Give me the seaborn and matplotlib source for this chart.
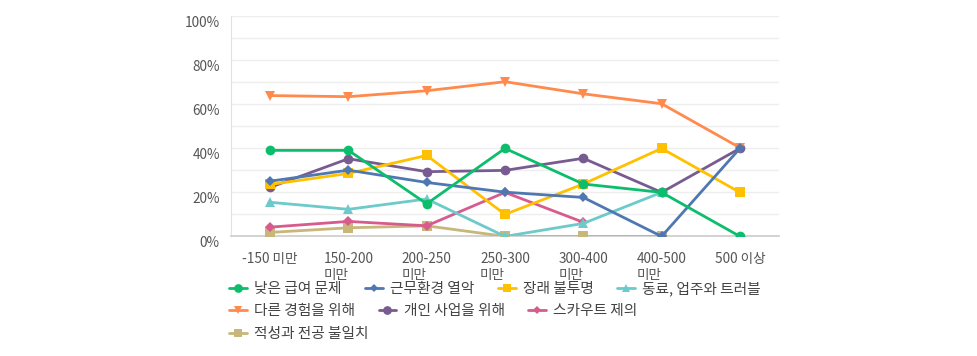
import numpy as np
import pandas as pd
import matplotlib
matplotlib.use('Agg')
import matplotlib.pyplot as plt
import matplotlib.transforms as mtrans
from matplotlib.lines import Line2D
from matplotlib.ticker import FuncFormatter, MultipleLocator
import seaborn as sns

## ===================================================================== ##

categories = ['-150 미만', '150-200\n미만', '200-250\n미만', '250-300\n미만',
              '300-400\n미만', '400-500\n미만', '500 이상']

series_names = ['낮은 급여 문제', '근무환경 열악', '장래 불투명', '동료, 업주와 트러블',
                '다른 경험을 위해', '개인 사업을 위해', '스카우트 제의', '적성과 전공 불일치']

low_pay = [39.1, 39.1, 14.8, 40.0, 23.8, 20.0, 0.0]
bad_env = [25.1, 30.1, 24.5, 20.1, 17.7, 0.0, 40.0]
uncertain = [23.6, 28.6, 36.8, 10.0, 23.8, 40.0, 20.0]
trouble = [15.5, 12.3, 17.0, 0.0, 5.9, 20.0, np.nan]
other_exp = [64.0, 63.5, 66.2, 70.3, 64.8, 60.3, 40.3]
own_biz = [22.3, 35.3, 29.4, 30.0, 35.5, 20.0, 40.0]
scout = [4.2, 6.8, 4.8, 20.0, 6.4, np.nan, np.nan]
mismatch = [1.8, 3.9, 4.8, 0.0, 0.0, 0.0, np.nan]

colors = ['#0cbd6c', '#4f78b3', '#ffc000', '#6ccaca',
          '#ff8a4c', '#785b90', '#d75b8c', '#c8b67a']
markers = ['o', 'D', 's', '^', 'v', 'o', 'D', 's']
msizes = [7, 5, 7, 7, 7, 7, 5, 7]

## ===================================================================== ##

values = [low_pay, bad_env, uncertain, trouble, other_exp, own_biz, scout, mismatch]
df = pd.DataFrame({
    'category': categories * len(series_names),
    'name': np.repeat(series_names, len(categories)),
    'value': np.concatenate(values),
})
df = df.loc[df['value'].notnull(), :]

sns.set_style('white')
plt.rcParams['font.family'] = ['Noto Sans CJK KR', 'DejaVu Sans']

fig = plt.figure(figsize=(9.77, 3.56), dpi=100)
ax = fig.add_axes([0.2364, 0.336, 0.561, 0.618])

sns.lineplot(data=df, x='category', y='value', hue='name', hue_order=series_names,
             style='name', style_order=series_names, markers=dict(zip(series_names, markers)),
             dashes=False, palette=dict(zip(series_names, colors)), sort=False,
             lw=2, legend=False, ax=ax)

# first series on top, like the original
for i, line in enumerate(ax.lines):
    line.set_zorder(20 - i)
    line.set_markeredgecolor(colors[i])
    line.set_markeredgewidth(0)
    line.set_markersize(msizes[i])

ax.set_xlim(-0.5, len(categories) - 0.5)
ax.set_ylim(0, 100)
ax.yaxis.set_major_locator(MultipleLocator(20))
ax.yaxis.set_minor_locator(MultipleLocator(10))
ax.yaxis.set_major_formatter(FuncFormatter(lambda v, p: '{0:d}%'.format(int(v))))
ax.grid(axis='y', which='both', color='#eeeeee', lw=1)
ax.set_axisbelow(True)
ax.set_xlabel('')
ax.set_ylabel('')
ax.tick_params(axis='both', length=0, labelsize=9.8, colors='#555555')
ax.tick_params(axis='x', pad=11)
ax.tick_params(axis='y', pad=8)
for lab in ax.get_xticklabels():
    lab.set_multialignment('left')

# y labels sit a little below their gridline
offset = mtrans.ScaledTranslation(0, -5. / 100, fig.dpi_scale_trans)
for tick in ax.yaxis.get_major_ticks():
    tick.label1.set_transform(tick.label1.get_transform() + offset)

sns.despine(ax=ax, top=True, right=True)
ax.spines['left'].set_color('#e2e2e2')
ax.spines['bottom'].set_color('#cccccc')
ax.spines['bottom'].set_linewidth(1.2)

handles = [Line2D([], [], color=c, marker=m, lw=2, ms=s * 0.9, mew=0)
           for c, m, s in zip(colors, markers, msizes)]

rows = [(0, 4, 0.188), (4, 7, 0.126), (7, 8, 0.061)]
for a, b, y in rows:
    fig.legend(handles[a:b], series_names[a:b], loc='center left', bbox_to_anchor=(0.2344, y),
               ncol=b - a, frameon=False, fontsize=10.6, handlelength=1.2, handletextpad=0.5,
               columnspacing=1.6, borderpad=0, borderaxespad=0, labelcolor='#444444')

fig.savefig('out.png', dpi=100)
